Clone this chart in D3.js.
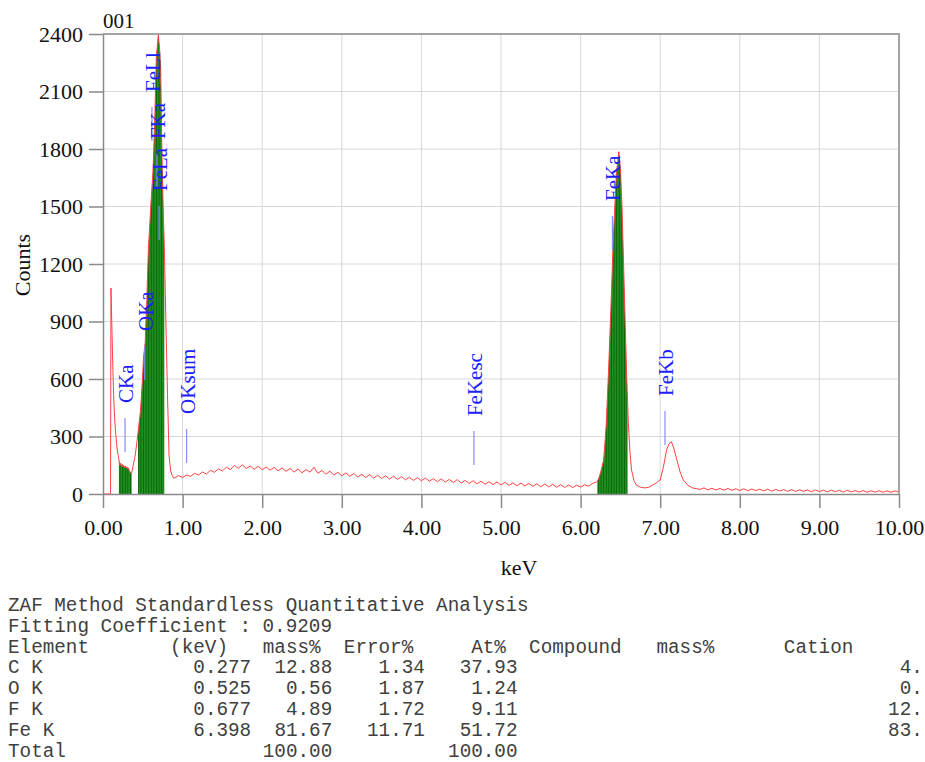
<!DOCTYPE html>
<html>
<head>
<meta charset="utf-8">
<script src="https://cdn.jsdelivr.net/npm/d3@7"></script>
<style>
  body { margin: 0; background: #fff; }
  svg { display: block; }
  .tbl { font-family: "Liberation Mono", "Courier New", monospace; font-size: 19.3px; fill: #404040; }
</style>
</head>
<body>
<svg></svg>
<script>
const SERIF = '"Liberation Serif", "Times New Roman", serif';

// ---- axis ticks
const xTicks = [0, 1, 2, 3, 4, 5, 6, 7, 8, 9, 10];
const yTicks = [0, 300, 600, 900, 1200, 1500, 1800, 2100, 2400];

// ---- spectrum, [keV, counts]
const lowEnergy = [
  [0.00, 0], [0.095, 0], [0.10, 1075], [0.11, 900], [0.12, 720], [0.13, 560], [0.14, 450],
  [0.15, 370], [0.16, 310], [0.17, 265], [0.18, 230], [0.19, 205], [0.20, 180], [0.21, 150],
  [0.22, 162], [0.23, 145], [0.24, 155], [0.25, 142], [0.26, 150], [0.27, 138], [0.28, 146],
  [0.29, 136], [0.30, 142], [0.31, 130], [0.32, 136], [0.33, 122], [0.34, 115], [0.35, 108],
  [0.36, 112], [0.37, 130], [0.38, 150], [0.40, 190], [0.42, 250], [0.44, 320], [0.47, 430],
  [0.49, 560], [0.51, 716], [0.53, 790], [0.55, 1010], [0.57, 1273], [0.60, 1500], [0.63, 1700],
  [0.65, 1950], [0.67, 2280], [0.695, 2395], [0.71, 2330], [0.725, 2212], [0.74, 1779],
  [0.76, 1430], [0.77, 1300], [0.79, 900], [0.81, 520], [0.83, 200], [0.85, 120], [0.87, 95],
  [0.89, 82]
];
const continuum = [
  [0.90, 84], [0.95, 96], [1.00, 86], [1.05, 99], [1.10, 92], [1.15, 108], [1.20, 99],
  [1.25, 115], [1.30, 104], [1.35, 124], [1.40, 113], [1.45, 131], [1.50, 120], [1.55, 140],
  [1.60, 127], [1.65, 149], [1.70, 134], [1.75, 152], [1.80, 133], [1.85, 146], [1.90, 129],
  [1.95, 144], [2.00, 127], [2.05, 141], [2.10, 124], [2.15, 139], [2.20, 121], [2.25, 136],
  [2.30, 118], [2.35, 133], [2.40, 114], [2.45, 131], [2.50, 111], [2.55, 127], [2.60, 114],
  [2.65, 140], [2.70, 108], [2.75, 123], [2.80, 103], [2.85, 119], [2.90, 99], [2.95, 113],
  [3.00, 95], [3.05, 110], [3.10, 92], [3.15, 107], [3.20, 89], [3.25, 103], [3.30, 86],
  [3.35, 101], [3.40, 83], [3.45, 98], [3.50, 81], [3.55, 95], [3.60, 78], [3.65, 93],
  [3.70, 76], [3.75, 91], [3.80, 74], [3.85, 87], [3.90, 71], [3.95, 85], [4.00, 69],
  [4.05, 83], [4.10, 67], [4.15, 80], [4.20, 64], [4.25, 79], [4.30, 62], [4.35, 76],
  [4.40, 60], [4.45, 75], [4.50, 57], [4.55, 71], [4.60, 55], [4.65, 69], [4.70, 53],
  [4.75, 67], [4.80, 51], [4.85, 64], [4.90, 49], [4.95, 63], [5.00, 47], [5.05, 61],
  [5.10, 45], [5.15, 58], [5.20, 43], [5.25, 57], [5.30, 42], [5.35, 55], [5.40, 40],
  [5.45, 53], [5.50, 38], [5.55, 52], [5.60, 37], [5.65, 50], [5.70, 35], [5.75, 49],
  [5.80, 34], [5.85, 47], [5.90, 33], [5.95, 46], [6.00, 36], [6.05, 48], [6.10, 41],
  [6.15, 55]
];
const feKPeaks = [
  [6.20, 62], [6.22, 73], [6.25, 110], [6.29, 177], [6.32, 350], [6.35, 631], [6.38, 960],
  [6.41, 1325], [6.45, 1675], [6.48, 1786], [6.50, 1700], [6.52, 1499], [6.54, 1200],
  [6.56, 892], [6.58, 600], [6.60, 370], [6.62, 220], [6.64, 125], [6.67, 70], [6.70, 47],
  [6.75, 36], [6.80, 32], [6.85, 34], [6.90, 45], [6.95, 58], [7.00, 73], [7.04, 140],
  [7.08, 230], [7.11, 262], [7.14, 273], [7.17, 240], [7.21, 177], [7.25, 115], [7.29, 73],
  [7.35, 45], [7.41, 31], [7.45, 28]
];
const tail = [
  [7.50, 24], [7.55, 32], [7.60, 22], [7.65, 30], [7.70, 21], [7.75, 29], [7.80, 20],
  [7.85, 29], [7.90, 19], [7.95, 27], [8.00, 18], [8.05, 27], [8.10, 17], [8.15, 26],
  [8.20, 18], [8.25, 25], [8.30, 16], [8.35, 25], [8.40, 15], [8.45, 24], [8.50, 16],
  [8.55, 23], [8.60, 14], [8.65, 23], [8.70, 13], [8.75, 22], [8.80, 14], [8.85, 21],
  [8.90, 12], [8.95, 21], [9.00, 13], [9.05, 20], [9.10, 11], [9.15, 20], [9.20, 12],
  [9.25, 19], [9.30, 10], [9.35, 19], [9.40, 11], [9.45, 18], [9.50, 10], [9.55, 18],
  [9.60, 9], [9.65, 17], [9.70, 10], [9.75, 17], [9.80, 9], [9.85, 16], [9.90, 9],
  [9.95, 16], [10.00, 10]
];

// integration windows (keV) shown in green
const roiRanges = [[0.20, 0.36], [0.44, 0.77], [6.21, 6.59]];

// peak identification markers
const markerNames  = ['CKa', 'OKa', 'OKsum', 'FeLl', 'FKa', 'FeLa', 'FeKesc', 'FeKa', 'FeKb'];
const markerKeV    = [0.277, 0.525, 1.05, 0.615, 0.677, 0.705, 4.66, 6.40, 7.06];
const markerCounts = [219, 595, 162, 1842, 1596, 1325, 151, 1273, 256];

// quantitative table
const tableTitle = 'ZAF Method Standardless Quantitative Analysis';
const fitLine = 'Fitting Coefficient : 0.9209';
const headers = ['Element', '(keV)', 'mass%', 'Error%', 'At%', 'Compound', 'mass%', 'Cation'];
const elements = ['C  K', 'O  K', 'F  K', 'Fe K'];
const lineKeV  = ['0.277', '0.525', '0.677', '6.398'];
const massPct  = ['12.88', '0.56', '4.89', '81.67'];
const errorPct = ['1.34', '1.87', '1.72', '11.71'];
const atPct    = ['37.93', '1.24', '9.11', '51.72'];
const cation   = ['4.', '0.', '12.', '83.'];
const totals   = ['100.00', '100.00'];

const spectrum = [...lowEnergy, ...continuum, ...feKPeaks, ...tail];

const width = 925, height = 762;
const svg = d3.select('svg').attr('width', width).attr('height', height);

const x = d3.scaleLinear().domain([0, 10]).range([103, 899]);
const y = d3.scaleLinear().domain([0, 2400]).range([494, 34]);

// grid
const grid = svg.append('g').attr('stroke', '#d8d8d8').attr('stroke-width', 1);
grid.selectAll('line.v').data(xTicks.slice(1, -1)).enter().append('line')
  .attr('x1', d => x(d)).attr('x2', d => x(d))
  .attr('y1', y(0)).attr('y2', y(2400));
grid.selectAll('line.h').data(yTicks.slice(1, -1)).enter().append('line')
  .attr('x1', x(0)).attr('x2', x(10))
  .attr('y1', d => y(d)).attr('y2', d => y(d));

// green striped fill for the windows
const defs = svg.append('defs');
const pat = defs.append('pattern').attr('id', 'stripe')
  .attr('patternUnits', 'userSpaceOnUse').attr('width', 2.6).attr('height', 10);
pat.append('rect').attr('width', 2.6).attr('height', 10).attr('fill', '#1e8e1e');
pat.append('line').attr('x1', 0.4).attr('x2', 0.4).attr('y1', 0).attr('y2', 10)
  .attr('stroke', '#0b620b').attr('stroke-width', 0.9);

const clip = defs.append('clipPath').attr('id', 'roi');
clip.selectAll('rect').data(roiRanges).enter().append('rect')
  .attr('x', d => x(d[0])).attr('width', d => x(d[1]) - x(d[0]))
  .attr('y', y(2400)).attr('height', y(0) - y(2400));

const area = d3.area().x(d => x(d[0])).y0(y(0)).y1(d => y(d[1]));
svg.append('path').datum(spectrum)
  .attr('d', area).attr('fill', 'url(#stripe)').attr('clip-path', 'url(#roi)');

// spectrum line
const line = d3.line().x(d => x(d[0])).y(d => y(d[1]));
svg.append('path').datum(spectrum)
  .attr('d', line).attr('fill', 'none')
  .attr('stroke', '#ff4040').attr('stroke-width', 1);

// peak markers
const marks = svg.append('g');
markerNames.forEach((name, i) => {
  const mx = x(markerKeV[i]);
  const my = y(markerCounts[i]);
  marks.append('line')
    .attr('x1', mx).attr('x2', mx).attr('y1', my).attr('y2', my - 34)
    .attr('stroke', '#8a8aff').attr('stroke-width', 1.2);
  marks.append('text')
    .attr('transform', `translate(${mx + 8},${my - 49}) rotate(-90)`)
    .attr('font-family', SERIF).attr('font-size', 21).attr('fill', '#2020ff')
    .text(name);
});

// axes
const xAxis = svg.append('g').attr('transform', `translate(0,${y(0)})`)
  .call(d3.axisBottom(x).tickValues(xTicks).tickFormat(d3.format('.2f'))
    .tickSize(14).tickSizeOuter(0).tickPadding(11));
const yAxis = svg.append('g').attr('transform', `translate(${x(0)},0)`)
  .call(d3.axisLeft(y).tickValues(yTicks).tickFormat(d3.format('d'))
    .tickSize(14).tickSizeOuter(0).tickPadding(6));
[xAxis, yAxis].forEach(g => {
  g.attr('font-family', SERIF).attr('font-size', 22);
  g.selectAll('path, line').attr('stroke', '#8a8a8a').attr('stroke-width', 1.5);
  g.selectAll('text').attr('fill', '#111');
});

// frame top and right
svg.append('path')
  .attr('d', `M${x(0)},${y(2400)}H${x(10)}V${y(0)}`)
  .attr('fill', 'none').attr('stroke', '#a4a4a4').attr('stroke-width', 2);

// titles
svg.append('text').attr('x', 103).attr('y', 28)
  .attr('font-family', SERIF).attr('font-size', 21).attr('fill', '#111').text('001');
svg.append('text')
  .attr('transform', 'translate(30,265) rotate(-90)')
  .attr('text-anchor', 'middle').attr('font-family', SERIF).attr('font-size', 22)
  .attr('fill', '#111').text('Counts');
svg.append('text').attr('x', 519).attr('y', 575)
  .attr('text-anchor', 'middle').attr('font-family', SERIF).attr('font-size', 22)
  .attr('fill', '#111').text('keV');

// table
const cw = 19.3 * 0.6, tx = 8, ty = 611, lh = 20.8;
const tbl = svg.append('g').attr('class', 'tbl');
const put = (txt, col, row, anchor) => tbl.append('text')
  .attr('x', tx + col * cw).attr('y', ty + row * lh)
  .attr('text-anchor', anchor || 'start').text(txt);

put(tableTitle, 0, 0);
put(fitLine, 0, 1);
const headerCols = [0, 14, 22, 29, 40, 45, 56, 67];
headers.forEach((h, i) => put(h, headerCols[i], 2));
elements.forEach((el, i) => {
  const r = 3 + i;
  put(el, 0, r);
  put(lineKeV[i], 21, r, 'end');
  put(massPct[i], 28, r, 'end');
  put(errorPct[i], 36, r, 'end');
  put(atPct[i], 44, r, 'end');
  put(cation[i], 79, r, 'end');
});
put('Total', 0, 7);
put(totals[0], 28, 7, 'end');
put(totals[1], 44, 7, 'end');
</script>
</body>
</html>
